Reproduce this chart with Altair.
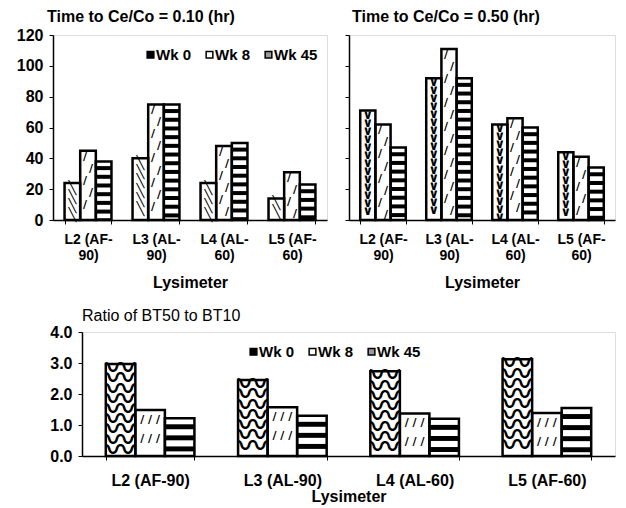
import altair as alt
import pandas as pd

# ---------------- data ----------------
lysimeters = ["L2 (AF-90)", "L3 (AL-90)", "L4 (AL-60)", "L5 (AF-60)"]
weeks = ["Wk 0", "Wk 8", "Wk 45"]

t10_wk0 = [24, 40, 24, 14]
t10_wk8 = [45, 75, 48, 31]
t10_wk45 = [38, 75, 50, 23]

t50_wk0 = [71, 92, 62, 44]
t50_wk8 = [62, 111, 66, 41]
t50_wk45 = [47, 92, 60, 34]

ratio_wk0 = [2.97, 2.45, 2.73, 3.12]
ratio_wk8 = [1.48, 1.57, 1.37, 1.39]
ratio_wk45 = [1.22, 1.30, 1.20, 1.55]

top_ticks = [0, 20, 40, 60, 80, 100, 120]
bottom_ticks = [0, 1, 2, 3, 4]

FONT = "Liberation Sans"


def long_table(w0, w8, w45):
    rows = []
    for i, lys in enumerate(lysimeters):
        for wk, vals in zip(weeks, (w0, w8, w45)):
            rows.append({"lys": lys, "week": wk, "value": vals[i]})
    return pd.DataFrame(rows)


def stripe_table(vals, period, thick):
    rows = []
    gap = period - thick
    for lys, v in zip(lysimeters, vals):
        y1 = v - gap
        while y1 > 0:
            rows.append({"lys": lys, "week": "Wk 45", "value": max(y1 - thick, 0), "value2": y1})
            y1 -= period
    return pd.DataFrame(rows)


def glyph_table(vals, week, step, start=0.5):
    rows = []
    for lys, v in zip(lysimeters, vals):
        k = 0
        pos = v - step * start
        while pos > step * 0.35:
            rows.append({"lys": lys, "week": week, "value": pos, "side": k % 2})
            k += 1
            pos -= step
    return pd.DataFrame(rows)


def panel(w0, w8, w45, ymax, yticks, yfmt, width, height, title, title_dx,
          title_offset, title_weight, show_ylabels, legend_xy,
          two_line, xlab_size, xlab_pad, xtitle_pad, pad_inner, pad_outer,
          stripe, g0, g8):
    df = long_table(w0, w8, w45)
    if two_line:
        lab_expr = "[slice(datum.label, 0, 7), slice(datum.label, 7)]"
    else:
        lab_expr = "datum.label"
    x = alt.X("lys:N", sort=lysimeters,
              scale=alt.Scale(domain=lysimeters, paddingInner=pad_inner, paddingOuter=pad_outer),
              axis=alt.Axis(title="Lysimeter", labelExpr=lab_expr, labelAngle=0,
                            labelFontSize=xlab_size, labelFont=FONT, labelFontWeight="bold",
                            labelColor="black", labelLineHeight=16, labelPadding=xlab_pad,
                            titleFont=FONT, titleFontSize=16, titleFontWeight="bold",
                            titleColor="black", titlePadding=xtitle_pad,
                            tickBand="extent", tickSize=4, tickColor="black",
                            domainColor="black", domainWidth=1.5))
    xo = alt.XOffset("week:N", sort=weeks,
                     scale=alt.Scale(domain=weeks, paddingInner=0, paddingOuter=0))
    yaxis = alt.Axis(values=yticks, format=yfmt, labels=show_ylabels, labelFont=FONT,
                     labelFontSize=16, labelFontWeight="bold", labelColor="black",
                     labelPadding=6, tickSize=4, tickColor="black", domainColor="black",
                     domainWidth=1.5, grid=False, title=None)
    yscale = alt.Scale(domain=[0, ymax], nice=False)

    def Y(field):
        return alt.Y(field, scale=yscale, axis=yaxis, title=None)

    base = alt.Chart(df).mark_bar(fill="white").encode(x=x, xOffset=xo, y=Y("value:Q"))

    s_df = stripe_table(w45, *stripe)
    stripes = alt.Chart(s_df).mark_bar(fill="black").encode(
        x=x, xOffset=xo, y=Y("value:Q"), y2="value2:Q")

    layers = [base, stripes]

    for (ch, font, weight, size, step, dxs), wk, vals in ((g0, "Wk 0", w0), (g8, "Wk 8", w8)):
        gdf = glyph_table(vals, wk, step)
        for side, dx in enumerate(dxs):
            src = alt.Chart(gdf)
            if len(dxs) > 1:
                src = src.transform_filter(alt.datum.side == side)
            layers.append(
                src.mark_text(text=ch, font=font, fontSize=size, fill="black",
                              fontWeight=weight, baseline="middle", dx=dx)
                .encode(x=x, xOffset=xo, y=Y("value:Q")))

    outline = alt.Chart(df).mark_bar(fillOpacity=0, stroke="black", strokeWidth=2.5).encode(
        x=x, xOffset=xo, y=Y("value:Q"))
    layers.append(outline)

    if legend_xy is not None:
        leg = alt.Chart(df).mark_square(opacity=0, stroke="black", strokeWidth=1.5).encode(
            x=x, xOffset=xo, y=Y("value:Q"),
            fill=alt.Fill("week:N", sort=weeks,
                          scale=alt.Scale(domain=weeks, range=["black", "white", "#9a9a9a"]),
                          legend=alt.Legend(orient="none", legendX=legend_xy[0],
                                            legendY=legend_xy[1], direction="horizontal",
                                            title=None, labelFont=FONT, labelFontSize=15,
                                            labelFontWeight="bold", labelColor="black",
                                            symbolType="square", symbolSize=45,
                                            symbolOpacity=1, symbolStrokeColor="black",
                                            symbolStrokeWidth=1.5,
                                            labelOffset=alt.ExprRef(expr="-2"),
                                            columnPadding=10, padding=0)))
        layers.append(leg)

    return alt.layer(*layers).properties(
        width=width, height=height,
        title=alt.TitleParams(title, anchor="start", frame="group", font=FONT, fontSize=16,
                              fontWeight=title_weight, color="black", dx=title_dx,
                              offset=title_offset))


MONO = "DejaVu Sans Mono"
CJK = "Noto Sans CJK JP"

top_left = panel(t10_wk0, t10_wk8, t10_wk45, 120, top_ticks, "d", 274, 185,
                 "Time to Ce/Co = 0.10  (hr)", -6, 2, "bold", True, (90, 12),
                 True, 14, 8, 12, 0.31, 0.17, (5.64, 2.6),
                 ("\u2572", MONO, "bold", 13, 6.0, [0]),
                 ("/", "DejaVu Sans", "bold", 11, 7.8, [-3, 3]))
top_right = panel(t50_wk0, t50_wk8, t50_wk45, 120, top_ticks, "d", 266, 185,
                  "Time to Ce/Co = 0.50  (hr)", 3, 10, "bold", False, None,
                  True, 14, 8, 12, 0.31, 0.17, (5.64, 2.6),
                  ("\u2228", "DejaVu Sans", "bold", 13, 5.2, [0]),
                  ("/", "DejaVu Sans", "bold", 11, 7.8, [-3, 3]))
bottom = panel(ratio_wk0, ratio_wk8, ratio_wk45, 4, bottom_ticks, ".1f", 533, 124,
               "Ratio of BT50 to BT10", 0, 0, "normal", True, (164, 12),
               False, 16, 12, 0, 0.33, 0.18, (0.357, 0.16),
               ("\u3030", CJK, "bold", 30, 0.33, [0]),
               ("/ / /", "DejaVu Sans", "bold", 11, 0.62, [0]))

# empty, invisible spacer that pushes the lower panel to the right
spacer_df = pd.DataFrame({"a": [0]})
spacer = alt.Chart(spacer_df).mark_point(opacity=0).encode(
    x=alt.X("a:Q", axis=None), y=alt.Y("a:Q", axis=None)
).properties(width=29, height=124, view=alt.ViewBackground(stroke="transparent"))

RES = dict(x="independent", y="independent", xOffset="independent", fill="independent")

top = alt.hconcat(top_left, top_right, spacing=22, bounds="flush").resolve_scale(
    **RES).resolve_legend(fill="independent")
low = alt.hconcat(spacer, bottom, spacing=0, bounds="flush").resolve_scale(
    **RES).resolve_legend(fill="independent")

# nested groups count as zero-height in a flush layout: spacing = top plot height + gap
chart = alt.vconcat(top, low, spacing=297, bounds="flush").resolve_scale(
    **RES).resolve_legend(fill="independent").properties(
    padding={"left": 7, "top": 0, "right": 0, "bottom": 0}).configure_view(
    stroke="#222", strokeWidth=1.2).configure(background="white")

chart.save("out.html", embed_options={"renderer": "svg", "actions": False})
